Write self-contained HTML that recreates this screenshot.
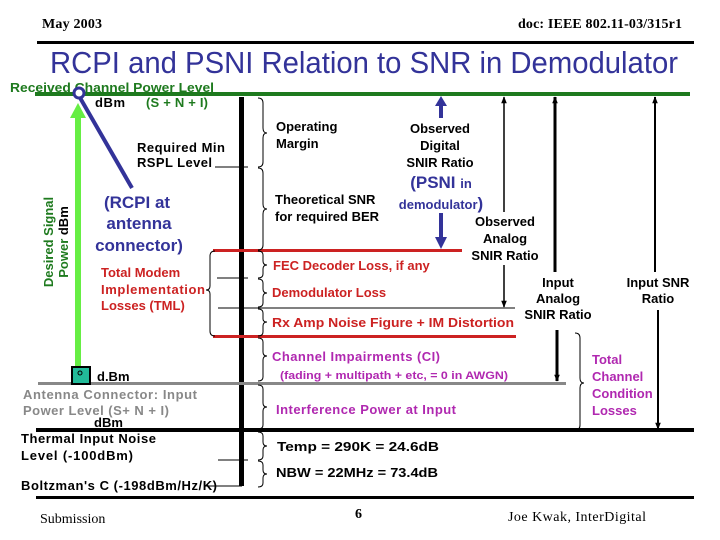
<!DOCTYPE html>
<html><head><meta charset="utf-8"><style>
html,body{margin:0;padding:0;background:#fff;}
svg{display:block;}
text{font-family:"Liberation Sans",Arial,sans-serif;font-weight:bold;font-size:13px;}
.s{font-family:"Liberation Serif",serif;font-weight:normal;}
.r{fill:#cc2222}.m{fill:#b028b0}.g{fill:#1e7a1e}.b{fill:#333399}.gr{fill:#888}
.big{font-size:17px}
</style></head><body>
<svg width="720" height="540" viewBox="0 0 720 540" xmlns="http://www.w3.org/2000/svg">
<defs>
<marker id="a" viewBox="0 0 10 10" refX="9" refY="5" markerWidth="7" markerHeight="7" markerUnits="userSpaceOnUse" orient="auto-start-reverse"><path d="M0,1 L10,5 L0,9 z" fill="#000"/></marker>
</defs>
<!-- header -->
<text x="42" y="28" class="s" style="font-size:14px;font-weight:bold" textLength="60">May 2003</text>
<text x="682" y="28" class="s" text-anchor="end" style="font-size:14px;font-weight:bold" textLength="164">doc: IEEE 802.11-03/315r1</text>
<rect x="37" y="41" width="657" height="3" fill="#000"/>
<text x="50" y="73" class="b" style="font-weight:normal;font-size:31px" textLength="628" lengthAdjust="spacingAndGlyphs">RCPI and PSNI Relation to SNR in Demodulator</text>
<!-- green top line -->
<rect x="35" y="92" width="655" height="4" fill="#1e7a1e"/>
<text x="10" y="92" class="g" textLength="204" lengthAdjust="spacingAndGlyphs">Received Channel Power Level</text>
<text x="95" y="107" textLength="30">dBm</text>
<text x="146" y="107" class="g" textLength="62">(S + N + I)</text>
<!-- green arrow -->
<rect x="75" y="115" width="6" height="253" fill="#66ee44"/>
<path d="M70,118 L78,103 L86,118 z" fill="#66ee44"/>
<!-- blue line & circle -->
<line x1="79" y1="96" x2="132" y2="188" stroke="#333399" stroke-width="4"/>
<circle cx="79" cy="93" r="5" fill="#fff" stroke="#333399" stroke-width="3"/>
<!-- rotated label -->
<text transform="translate(53,242) rotate(-90)" text-anchor="middle" class="g">Desired Signal</text>
<text transform="translate(68,242) rotate(-90)" text-anchor="middle"><tspan class="g">Power </tspan>dBm</text>
<!-- black vertical -->
<rect x="239" y="97" width="5" height="389" fill="#000"/>
<!-- thin ticks -->
<line x1="215" y1="167" x2="248" y2="167" stroke="#000"/>
<line x1="217" y1="278" x2="248" y2="278" stroke="#000"/>
<line x1="218" y1="308" x2="515" y2="308" stroke="#000"/>
<line x1="218" y1="460" x2="248" y2="460" stroke="#000"/>
<line x1="205" y1="486" x2="242" y2="486" stroke="#000"/>
<!-- red lines -->
<rect x="213" y="249" width="249" height="3" fill="#cc2222"/>
<rect x="213" y="335" width="303" height="3" fill="#cc2222"/>
<!-- gray line -->
<rect x="38" y="382" width="528" height="3" fill="#888"/>
<!-- black thick horizontal -->
<rect x="36" y="428" width="658" height="4" fill="#000"/>
<rect x="36" y="496" width="658" height="3" fill="#000"/>
<!-- braces -->
<g fill="none" stroke="#000" stroke-width="1">
<path d="M258,98 q5,0 5,5 v25 q0,5 4,5 q-4,0 -4,5 v24 q0,5 -5,5"/>
<path d="M258,168 q5,0 5,5 v31 q0,5 4,5 q-4,0 -4,5 v31 q0,5 -5,5"/>
<path d="M258,251 q5,0 5,4 v6 q0,4 4,4 q-4,0 -4,4 v5 q0,4 -5,4"/>
<path d="M258,279 q5,0 5,4 v6 q0,4 4,4 q-4,0 -4,4 v6 q0,4 -5,4"/>
<path d="M258,309 q5,0 5,4 v6 q0,3 4,3 q-4,0 -4,4 v6 q0,4 -5,4"/>
<path d="M258,338 q5,0 5,4 v10 q0,4 4,4 q-4,0 -4,4 v17 q0,4 -5,4"/>
<path d="M258,385 q5,0 5,4 v14 q0,4 4,4 q-4,0 -4,4 v14 q0,4 -5,4"/>
<path d="M258,432 q5,0 5,4 v6 q0,4 4,4 q-4,0 -4,4 v6 q0,4 -5,4"/>
<path d="M258,461 q5,0 5,4 v5 q0,4 4,4 q-4,0 -4,4 v5 q0,4 -5,4"/>
<path d="M215,251 q-5,0 -5,5 v30 q0,4 -4,4 q4,0 4,4 v37 q0,5 5,5"/>
<path d="M575,333 q5,0 5,5 v40 q0,5 4,5 q-4,0 -4,5 v37 q0,5 -5,5"/>
</g>
<!-- blue arrows -->
<rect x="439" y="104" width="4" height="14" fill="#333399"/>
<path d="M435,106 L441,96 L447,106 z" fill="#333399"/>
<rect x="439" y="213" width="4" height="26" fill="#333399"/>
<path d="M435,237 L441,249 L447,237 z" fill="#333399"/>
<!-- vertical arrows -->
<g stroke="#000">
<line x1="504" y1="212" x2="504" y2="97" stroke-width="1.5" marker-end="url(#a)"/>
<line x1="504" y1="265" x2="504" y2="307" stroke-width="1.5" marker-end="url(#a)"/>
<line x1="555" y1="272" x2="555" y2="97" stroke-width="3" marker-end="url(#a)"/>
<line x1="557" y1="330" x2="557" y2="381" stroke-width="3" marker-end="url(#a)"/>
<line x1="655" y1="272" x2="655" y2="97" stroke-width="2" marker-end="url(#a)"/>
<line x1="658" y1="310" x2="658" y2="429" stroke-width="2" marker-end="url(#a)"/>
</g>
<!-- green box -->
<rect x="72" y="367" width="18" height="17" fill="#22bb99" stroke="#000" stroke-width="2"/>
<circle cx="80" cy="373" r="2" fill="none" stroke="#000" stroke-width="1"/>
<!-- left labels -->
<text x="137" y="152" textLength="88">Required Min</text>
<text x="137" y="167" textLength="75">RSPL Level</text>
<text x="137" y="208" class="b big" text-anchor="middle">(RCPI at</text>
<text x="139" y="229" class="b big" text-anchor="middle">antenna</text>
<text x="139" y="251" class="b big" text-anchor="middle">connector)</text>
<text x="101" y="277" class="r">Total Modem</text>
<text x="101" y="294" class="r" textLength="104">Implementation</text>
<text x="101" y="310" class="r">Losses (TML)</text>
<text x="97" y="381">d.Bm</text>
<text x="23" y="399" class="gr" textLength="174">Antenna Connector: Input</text>
<text x="23" y="415" class="gr" textLength="146">Power Level (S+ N + I)</text>
<text x="94" y="427">dBm</text>
<text x="21" y="443" textLength="135">Thermal Input Noise</text>
<text x="21" y="460" textLength="112">Level  (-100dBm)</text>
<text x="21" y="490" textLength="196">Boltzman's C (-198dBm/Hz/K)</text>
<!-- middle labels -->
<text x="276" y="131">Operating</text>
<text x="276" y="148">Margin</text>
<g text-anchor="middle">
<text x="440" y="133">Observed</text>
<text x="440" y="150">Digital</text>
<text x="440" y="167">SNIR Ratio</text>
<text x="441" y="188" class="b" style="font-size:17px">(PSNI <tspan style="font-size:13px">in</tspan></text>
<text x="441" y="209" class="b">demodulator<tspan style="font-size:17px">)</tspan></text>
<text x="505" y="226">Observed</text>
<text x="505" y="243">Analog</text>
<text x="505" y="260">SNIR Ratio</text>
<text x="558" y="287">Input</text>
<text x="558" y="303">Analog</text>
<text x="558" y="319">SNIR Ratio</text>
<text x="658" y="287">Input SNR</text>
<text x="658" y="303">Ratio</text>
</g>
<text x="275" y="204">Theoretical SNR</text>
<text x="275" y="221">for required BER</text>
<text x="273" y="270" class="r">FEC Decoder Loss, if any</text>
<text x="272" y="297" class="r">Demodulator  Loss</text>
<text x="272" y="327" class="r" textLength="242" lengthAdjust="spacingAndGlyphs">Rx Amp Noise Figure + IM Distortion</text>
<text x="272" y="361" class="m" textLength="168">Channel Impairments (CI)</text>
<text x="280" y="379" class="m" style="font-size:11px" textLength="228" lengthAdjust="spacingAndGlyphs">(fading + multipath + etc,   = 0 in AWGN)</text>
<text x="276" y="414" class="m" textLength="180">Interference Power at Input</text>
<text x="592" y="364" class="m">Total</text>
<text x="592" y="381" class="m">Channel</text>
<text x="592" y="398" class="m">Condition</text>
<text x="592" y="415" class="m">Losses</text>
<text x="277" y="451" textLength="162" lengthAdjust="spacingAndGlyphs">Temp =  290K   =  24.6dB</text>
<text x="276" y="477" textLength="162" lengthAdjust="spacingAndGlyphs">NBW  = 22MHz  = 73.4dB</text>
<!-- footer -->
<text x="355" y="518" class="s" style="font-size:14px;font-weight:bold">6</text>
<text x="40" y="523" class="s" style="font-size:14px">Submission</text>
<text x="508" y="521" class="s" style="font-size:14px" textLength="138">Joe Kwak, InterDigital</text>
</svg>
</body></html>
